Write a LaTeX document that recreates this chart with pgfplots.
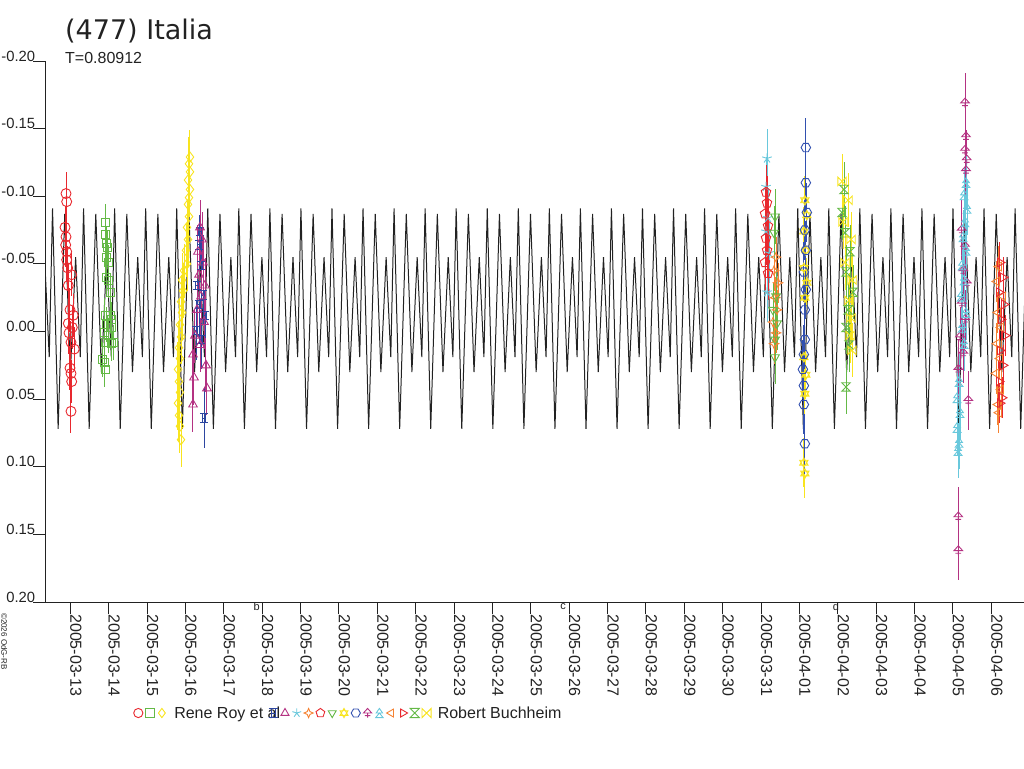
\documentclass[border=0pt]{standalone}
\usepackage{pgfplots}
\pgfplotsset{compat=1.18}
\usepackage{fontspec}
\setmainfont{Liberation Sans}
\newfontfamily\titlefont{DejaVu Sans}
\usetikzlibrary{plotmarks}
\definecolor{cRed}{RGB}{232,40,46}
\definecolor{cGreen}{RGB}{100,185,70}
\definecolor{cYellow}{RGB}{248,228,30}
\definecolor{cNavy}{RGB}{45,70,160}
\definecolor{cPurple}{RGB}{180,50,130}
\definecolor{cCyan}{RGB}{105,200,220}
\definecolor{cOrange}{RGB}{245,130,50}
\definecolor{cBlue}{RGB}{50,80,175}
\definecolor{cText}{RGB}{34,34,34}
\pgfdeclareplotmark{ibeam}{%
\pgfpathmoveto{\pgfqpoint{-\pgfplotmarksize}{\pgfplotmarksize}}\pgfpathlineto{\pgfqpoint{\pgfplotmarksize}{\pgfplotmarksize}}%
\pgfpathmoveto{\pgfqpoint{-\pgfplotmarksize}{-\pgfplotmarksize}}\pgfpathlineto{\pgfqpoint{\pgfplotmarksize}{-\pgfplotmarksize}}%
\pgfpathmoveto{\pgfqpoint{-0.4\pgfplotmarksize}{\pgfplotmarksize}}\pgfpathlineto{\pgfqpoint{-0.4\pgfplotmarksize}{-\pgfplotmarksize}}%
\pgfpathmoveto{\pgfqpoint{0.4\pgfplotmarksize}{\pgfplotmarksize}}\pgfpathlineto{\pgfqpoint{0.4\pgfplotmarksize}{-\pgfplotmarksize}}%
\pgfpathmoveto{\pgfqpoint{-0.4\pgfplotmarksize}{0pt}}\pgfpathlineto{\pgfqpoint{0.4\pgfplotmarksize}{0pt}}%
\pgfusepathqstroke}
\pgfdeclareplotmark{star4}{%
\pgfpathmoveto{\pgfqpoint{0pt}{\pgfplotmarksize}}%
\pgfpathlineto{\pgfqpoint{0.3\pgfplotmarksize}{0.3\pgfplotmarksize}}%
\pgfpathlineto{\pgfqpoint{\pgfplotmarksize}{0pt}}%
\pgfpathlineto{\pgfqpoint{0.3\pgfplotmarksize}{-0.3\pgfplotmarksize}}%
\pgfpathlineto{\pgfqpoint{0pt}{-\pgfplotmarksize}}%
\pgfpathlineto{\pgfqpoint{-0.3\pgfplotmarksize}{-0.3\pgfplotmarksize}}%
\pgfpathlineto{\pgfqpoint{-\pgfplotmarksize}{0pt}}%
\pgfpathlineto{\pgfqpoint{-0.3\pgfplotmarksize}{0.3\pgfplotmarksize}}%
\pgfpathclose\pgfusepathqstroke}
\pgfdeclareplotmark{david}{%
\pgfpathmoveto{\pgfqpoint{0pt}{\pgfplotmarksize}}%
\pgfpathlineto{\pgfqpoint{0.866\pgfplotmarksize}{-0.5\pgfplotmarksize}}%
\pgfpathlineto{\pgfqpoint{-0.866\pgfplotmarksize}{-0.5\pgfplotmarksize}}%
\pgfpathclose
\pgfpathmoveto{\pgfqpoint{0pt}{-\pgfplotmarksize}}%
\pgfpathlineto{\pgfqpoint{0.866\pgfplotmarksize}{0.5\pgfplotmarksize}}%
\pgfpathlineto{\pgfqpoint{-0.866\pgfplotmarksize}{0.5\pgfplotmarksize}}%
\pgfpathclose\pgfusepathqstroke}
\pgfdeclareplotmark{hexa}{%
\pgfpathmoveto{\pgfqpoint{\pgfplotmarksize}{0pt}}%
\pgfpathlineto{\pgfqpoint{0.5\pgfplotmarksize}{0.866\pgfplotmarksize}}%
\pgfpathlineto{\pgfqpoint{-0.5\pgfplotmarksize}{0.866\pgfplotmarksize}}%
\pgfpathlineto{\pgfqpoint{-\pgfplotmarksize}{0pt}}%
\pgfpathlineto{\pgfqpoint{-0.5\pgfplotmarksize}{-0.866\pgfplotmarksize}}%
\pgfpathlineto{\pgfqpoint{0.5\pgfplotmarksize}{-0.866\pgfplotmarksize}}%
\pgfpathclose\pgfusepathqstroke}
\pgfdeclareplotmark{tstem}{%
\pgfpathmoveto{\pgfqpoint{0pt}{\pgfplotmarksize}}%
\pgfpathlineto{\pgfqpoint{0.9\pgfplotmarksize}{0pt}}%
\pgfpathlineto{\pgfqpoint{-0.9\pgfplotmarksize}{0pt}}%
\pgfpathclose
\pgfpathmoveto{\pgfqpoint{0pt}{0pt}}\pgfpathlineto{\pgfqpoint{0pt}{-\pgfplotmarksize}}%
\pgfpathmoveto{\pgfqpoint{-0.6\pgfplotmarksize}{-0.55\pgfplotmarksize}}\pgfpathlineto{\pgfqpoint{0.6\pgfplotmarksize}{-0.55\pgfplotmarksize}}%
\pgfusepathqstroke}
\pgfdeclareplotmark{clubs}{%
\pgfpathmoveto{\pgfqpoint{0pt}{\pgfplotmarksize}}%
\pgfpathlineto{\pgfqpoint{0.7\pgfplotmarksize}{0pt}}%
\pgfpathlineto{\pgfqpoint{-0.7\pgfplotmarksize}{0pt}}%
\pgfpathclose
\pgfpathmoveto{\pgfqpoint{-0.8\pgfplotmarksize}{-\pgfplotmarksize}}\pgfpathlineto{\pgfqpoint{0pt}{0pt}}\pgfpathlineto{\pgfqpoint{0.8\pgfplotmarksize}{-\pgfplotmarksize}}%
\pgfpathclose
\pgfusepathqstroke}
\pgfdeclareplotmark{hourglass}{%
\pgfpathmoveto{\pgfqpoint{-\pgfplotmarksize}{\pgfplotmarksize}}%
\pgfpathlineto{\pgfqpoint{\pgfplotmarksize}{\pgfplotmarksize}}%
\pgfpathlineto{\pgfqpoint{-\pgfplotmarksize}{-\pgfplotmarksize}}%
\pgfpathlineto{\pgfqpoint{\pgfplotmarksize}{-\pgfplotmarksize}}%
\pgfpathclose\pgfusepathqstroke}
\pgfdeclareplotmark{bowtie}{%
\pgfpathmoveto{\pgfqpoint{-\pgfplotmarksize}{\pgfplotmarksize}}%
\pgfpathlineto{\pgfqpoint{-\pgfplotmarksize}{-\pgfplotmarksize}}%
\pgfpathlineto{\pgfqpoint{\pgfplotmarksize}{\pgfplotmarksize}}%
\pgfpathlineto{\pgfqpoint{\pgfplotmarksize}{-\pgfplotmarksize}}%
\pgfpathclose\pgfusepathqstroke}
\begin{document}
\begin{tikzpicture}
\useasboundingbox (0,0) rectangle (1024pt,768pt);
\begin{axis}[
  at={(45.3pt,166pt)}, anchor=south west,
  width=978.7pt, height=541pt, scale only axis,
  xmin=-0.6515, xmax=24.852, ymin=-0.2, ymax=0.2, y dir=reverse,
  axis x line*=bottom, axis y line*=left,
  axis line style={color=cText, line width=1pt, -},
  tick align=outside, major tick length=12pt,
  tick style={color=cText, line width=1pt},
  xtick={0,...,24},
  xticklabels={2005-03-13,2005-03-14,2005-03-15,2005-03-16,2005-03-17,2005-03-18,2005-03-19,2005-03-20,2005-03-21,2005-03-22,2005-03-23,2005-03-24,2005-03-25,2005-03-26,2005-03-27,2005-03-28,2005-03-29,2005-03-30,2005-03-31,2005-04-01,2005-04-02,2005-04-03,2005-04-04,2005-04-05,2005-04-06},
  ytick={-0.2,-0.15,-0.1,-0.05,0,0.05,0.1,0.15,0.2},
  yticklabels={-0.20,-0.15,-0.10,-0.05,0.00,0.05,0.10,0.15,0.20},
  xticklabel style={font=\fontsize{16}{19}\selectfont, text=cText, rotate=-90, anchor=base west, inner sep=0pt},
  yticklabel style={xshift=2pt, font=\fontsize{14.8}{18}\selectfont, text=cText, anchor=base east, inner sep=0pt},
  legend columns=-1,
  legend image code/.code={\path[draw=none, fill=none] (-5.2pt,-5.2pt) rectangle (5.2pt,5.2pt); \draw[#1, mark size=4.6pt] plot coordinates {(0pt,0pt)};},
  legend style={draw=none, fill=none, inner sep=0pt, outer sep=0pt, at={(axis description cs:0.0897,-0.2052)}, anchor=west, font=\fontsize{16}{19}\selectfont, text=cText, nodes={inner sep=0pt}, /tikz/every odd column/.style={column sep=0pt}, /tikz/every even column/.style={column sep=0.4pt}},
]
\addplot[color=cText, line width=1pt, forget plot] table {
x y
-1.272 -0.091
-1.126 0.072
-0.954 -0.087
-0.807 0.030
-0.670 -0.055
-0.549 0.019
-0.463 -0.091
-0.317 0.072
-0.145 -0.087
0.002 0.030
0.139 -0.055
0.260 0.019
0.346 -0.091
0.492 0.072
0.664 -0.087
0.811 0.030
0.948 -0.055
1.069 0.019
1.155 -0.091
1.301 0.072
1.473 -0.087
1.620 0.030
1.757 -0.055
1.878 0.019
1.964 -0.091
2.110 0.072
2.282 -0.087
2.429 0.030
2.566 -0.055
2.687 0.019
2.773 -0.091
2.919 0.072
3.091 -0.087
3.238 0.030
3.375 -0.055
3.496 0.019
3.582 -0.091
3.728 0.072
3.900 -0.087
4.047 0.030
4.184 -0.055
4.305 0.019
4.391 -0.091
4.537 0.072
4.709 -0.087
4.856 0.030
4.993 -0.055
5.114 0.019
5.201 -0.091
5.347 0.072
5.519 -0.087
5.666 0.030
5.803 -0.055
5.924 0.019
6.010 -0.091
6.156 0.072
6.328 -0.087
6.475 0.030
6.612 -0.055
6.733 0.019
6.819 -0.091
6.965 0.072
7.137 -0.087
7.284 0.030
7.421 -0.055
7.542 0.019
7.628 -0.091
7.774 0.072
7.946 -0.087
8.093 0.030
8.230 -0.055
8.351 0.019
8.437 -0.091
8.583 0.072
8.755 -0.087
8.902 0.030
9.039 -0.055
9.160 0.019
9.246 -0.091
9.392 0.072
9.564 -0.087
9.711 0.030
9.848 -0.055
9.969 0.019
10.055 -0.091
10.201 0.072
10.373 -0.087
10.520 0.030
10.657 -0.055
10.778 0.019
10.865 -0.091
11.011 0.072
11.183 -0.087
11.330 0.030
11.467 -0.055
11.588 0.019
11.674 -0.091
11.820 0.072
11.992 -0.087
12.139 0.030
12.276 -0.055
12.397 0.019
12.483 -0.091
12.629 0.072
12.801 -0.087
12.948 0.030
13.085 -0.055
13.206 0.019
13.292 -0.091
13.438 0.072
13.610 -0.087
13.757 0.030
13.894 -0.055
14.015 0.019
14.101 -0.091
14.247 0.072
14.419 -0.087
14.566 0.030
14.703 -0.055
14.824 0.019
14.910 -0.091
15.056 0.072
15.228 -0.087
15.375 0.030
15.512 -0.055
15.633 0.019
15.719 -0.091
15.865 0.072
16.037 -0.087
16.184 0.030
16.321 -0.055
16.442 0.019
16.528 -0.091
16.674 0.072
16.846 -0.087
16.993 0.030
17.130 -0.055
17.251 0.019
17.337 -0.091
17.483 0.072
17.655 -0.087
17.802 0.030
17.939 -0.055
18.060 0.019
18.147 -0.091
18.293 0.072
18.465 -0.087
18.612 0.030
18.749 -0.055
18.870 0.019
18.956 -0.091
19.102 0.072
19.274 -0.087
19.421 0.030
19.558 -0.055
19.679 0.019
19.765 -0.091
19.911 0.072
20.083 -0.087
20.230 0.030
20.367 -0.055
20.488 0.019
20.574 -0.091
20.720 0.072
20.892 -0.087
21.039 0.030
21.176 -0.055
21.297 0.019
21.383 -0.091
21.529 0.072
21.701 -0.087
21.848 0.030
21.985 -0.055
22.106 0.019
22.192 -0.091
22.338 0.072
22.510 -0.087
22.657 0.030
22.794 -0.055
22.915 0.019
23.001 -0.091
23.147 0.072
23.319 -0.087
23.466 0.030
23.603 -0.055
23.724 0.019
23.810 -0.091
23.956 0.072
24.128 -0.087
24.275 0.030
24.412 -0.055
24.533 0.019
24.620 -0.091
24.766 0.072
24.938 -0.087
25.085 0.030
};
% 1 red circles
\addplot[only marks, color=cRed, mark=o, mark size=5pt, mark options={solid, line width=0.9pt}, error bars/.cd, y dir=both, y fixed=0.016, error mark=none, error bar style={line width=1pt}] coordinates {
(-0.112,-0.102) (-0.094,-0.096) (-0.138,-0.077) (-0.112,-0.070) (-0.120,-0.064) (-0.094,-0.059) (-0.094,-0.053) (-0.068,-0.047) (0.036,-0.042) (-0.052,-0.034) (-0.008,-0.016) (0.078,-0.012) (-0.052,-0.006) (0.052,-0.003) (-0.034,0.001) (0.018,0.008) (0.104,0.013) (-0.008,0.027) (0.018,0.031) (0.036,0.037) (0.018,0.059)};
\addlegendentry{}
% 2 green squares
\addplot[only marks, color=cGreen, mark=square, mark size=4pt, mark options={solid, line width=0.9pt}, error bars/.cd, y dir=both, y fixed=0.013, error mark=none, error bar style={line width=1pt}] coordinates {
(0.922,-0.081) (0.922,-0.072) (0.949,-0.065) (0.975,-0.062) (0.930,-0.055) (0.990,-0.051) (0.949,-0.040) (0.990,-0.038) (1.035,-0.029) (0.904,-0.012) (1.035,-0.012) (1.079,-0.009) (0.949,-0.005) (1.079,-0.003) (0.886,0.001) (0.990,0.003) (0.904,0.008) (1.079,0.009) (1.121,0.008) (0.834,0.021) (0.886,0.023) (0.904,0.028)};
\addlegendentry{}
% 3 yellow diamonds
\addplot[only marks, color=cYellow, mark=diamond, mark size=5pt, mark options={solid, line width=0.9pt}, error bars/.cd, y dir=both, y fixed=0.02, error mark=none, error bar style={line width=1pt}] coordinates {
(3.119,-0.129) (3.093,-0.124) (3.119,-0.118) (3.067,-0.112) (3.119,-0.105) (3.093,-0.099) (3.067,-0.094) (3.093,-0.085) (3.041,-0.077) (3.067,-0.068) (3.015,-0.060) (3.041,-0.050) (2.963,-0.045) (2.911,-0.038) (2.937,-0.030) (2.885,-0.022) (2.911,-0.014) (2.858,-0.005) (2.885,0.004) (2.832,0.012) (2.858,0.020) (2.806,0.028) (2.832,0.037) (2.858,0.045) (2.806,0.053) (2.832,0.062) (2.858,0.070) (2.885,0.080)};
\addlegendentry{\makebox[100.5pt][l]{\hspace*{7.2pt}Rene Roy et al}}
% 4 navy ibeam
\addplot[only marks, color=cNavy, mark=ibeam, mark size=4.2pt, mark options={solid, line width=0.9pt}, error bars/.cd, y dir=both, y fixed=0.022, error mark=none, error bar style={line width=1pt}] coordinates {
(3.380,-0.074) (3.354,-0.064) (3.406,-0.049) (3.302,-0.034) (3.458,-0.027) (3.354,-0.020) (3.510,-0.012) (3.276,-0.001) (3.406,0.006) (3.484,0.064)};
\addlegendentry{}
% 5 purple triangles
\addplot[only marks, color=cPurple, mark=triangle, mark size=5pt, mark options={solid, line width=0.9pt}, error bars/.cd, y dir=both, y fixed=0.02, error mark=none, error bar style={line width=1pt}] coordinates {
(3.380,-0.077) (3.432,-0.068) (3.327,-0.059) (3.458,-0.051) (3.354,-0.042) (3.510,-0.034) (3.406,-0.026) (3.302,-0.016) (3.484,-0.007) (3.249,0.003) (3.380,0.010) (3.197,0.017) (3.536,0.025) (3.223,0.034) (3.562,0.042) (3.197,0.054)};
\addlegendentry{}
% 6 cyan stars
\addplot[only marks, color=cCyan, mark=star, mark size=5pt, mark options={solid, line width=0.9pt}, error bars/.cd, y dir=both, y fixed=0.022, error mark=none, error bar style={line width=1pt}] coordinates {
(18.155,-0.128) (18.129,-0.107) (18.181,-0.084) (18.129,-0.074) (18.207,-0.058) (18.155,-0.029)};
\addlegendentry{}
% 7 orange star4
\addplot[only marks, color=cOrange, mark=star4, mark size=4.8pt, mark options={solid, line width=0.9pt}, error bars/.cd, y dir=both, y fixed=0.015, error mark=none, error bar style={line width=1pt}] coordinates {
(18.390,-0.055) (18.338,-0.045) (18.442,-0.036) (18.364,-0.025) (18.416,-0.016) (18.312,-0.007) (18.390,0.001) (18.338,0.009)};
\addlegendentry{}
% 8 red pentagons
\addplot[only marks, color=cRed, mark=pentagon, mark size=5pt, mark options={solid, line width=0.9pt}, error bars/.cd, y dir=both, y fixed=0.02, error mark=none, error bar style={line width=1pt}] coordinates {
(18.129,-0.103) (18.155,-0.095) (18.103,-0.087) (18.181,-0.078) (18.129,-0.069) (18.155,-0.060) (18.103,-0.051) (18.181,-0.043)};
\addlegendentry{}
% 9 green down triangles
\addplot[only marks, color=cGreen, mark=triangle, mark size=5pt, mark options={solid, line width=0.9pt, rotate=180}, error bars/.cd, y dir=both, y fixed=0.02, error mark=none, error bar style={line width=1pt}] coordinates {
(18.364,-0.085) (18.338,-0.073) (18.390,-0.026) (18.312,-0.016) (18.416,-0.006) (18.364,0.006) (18.364,0.019)};
\addlegendentry{}
% 10 yellow david
\addplot[only marks, color=cYellow, mark=david, mark size=4.8pt, mark options={solid, line width=0.9pt}, error bars/.cd, y dir=both, y fixed=0.018, error mark=none, error bar style={line width=1pt}] coordinates {
(19.141,-0.097) (19.193,-0.086) (19.115,-0.074) (19.167,-0.060) (19.115,-0.047) (19.193,-0.036) (19.141,-0.025) (19.115,0.019) (19.167,0.032) (19.141,0.046) (19.115,0.097) (19.141,0.105)};
\addlegendentry{}
% 11 blue hexagons
\addplot[only marks, color=cBlue, mark=hexa, mark size=4.8pt, mark options={solid, line width=0.9pt}, error bars/.cd, y dir=both, y fixed=0.022, error mark=none, error bar style={line width=1pt}] coordinates {
(19.167,-0.136) (19.167,-0.110) (19.193,-0.088) (19.141,-0.075) (19.167,-0.060) (19.115,-0.044) (19.167,-0.031) (19.141,-0.016) (19.141,0.006) (19.115,0.017) (19.089,0.028) (19.115,0.040) (19.115,0.054) (19.141,0.083)};
\addlegendentry{}
% 12 purple tstem
\addplot[only marks, color=cPurple, mark=tstem, mark size=4.8pt, mark options={solid, line width=0.9pt}, error bars/.cd, y dir=both, y fixed=0.022, error mark=none, error bar style={line width=1pt}] coordinates {
(23.315,-0.169) (23.340,-0.144) (23.315,-0.134) (23.359,-0.127) (23.340,-0.119) (23.229,-0.075) (23.315,-0.063) (23.270,-0.045) (23.359,-0.036) (23.229,-0.021) (23.315,-0.009) (23.184,0.004) (23.270,0.016) (23.140,0.028) (23.401,0.051) (23.140,0.137) (23.140,0.162)};
\addlegendentry{}
% 13 cyan clubs
\addplot[only marks, color=cCyan, mark=clubs, mark size=4.8pt, mark options={solid, line width=0.9pt}, error bars/.cd, y dir=both, y fixed=0.02, error mark=none, error bar style={line width=1pt}] coordinates {
(23.341,-0.110) (23.289,-0.101) (23.367,-0.091) (23.315,-0.081) (23.263,-0.070) (23.341,-0.060) (23.237,-0.049) (23.289,-0.038) (23.211,-0.026) (23.341,-0.014) (23.237,-0.003) (23.289,0.009) (23.159,0.037) (23.107,0.049) (23.184,0.060) (23.107,0.071) (23.159,0.082) (23.133,0.088)};
\addlegendentry{}
% 14 orange left triangles
\addplot[only marks, color=cOrange, mark=triangle, mark size=5pt, mark options={solid, line width=0.9pt, rotate=90}, error bars/.cd, y dir=both, y fixed=0.015, error mark=none, error bar style={line width=1pt}] coordinates {
(24.200,-0.048) (24.148,-0.037) (24.305,-0.026) (24.174,-0.014) (24.253,-0.003) (24.148,0.009) (24.226,0.020) (24.122,0.031) (24.253,0.043) (24.174,0.054) (24.200,0.060)};
\addlegendentry{}
% 15 red right triangles
\addplot[only marks, color=cRed, mark=triangle, mark size=5pt, mark options={solid, line width=0.9pt, rotate=-90}, error bars/.cd, y dir=both, y fixed=0.015, error mark=none, error bar style={line width=1pt}] coordinates {
(24.226,-0.051) (24.305,-0.040) (24.200,-0.029) (24.330,-0.020) (24.253,-0.009) (24.357,0.003) (24.226,0.014) (24.305,0.025) (24.200,0.037) (24.279,0.049) (24.226,0.053)};
\addlegendentry{}
% 16 green hourglass
\addplot[only marks, color=cGreen, mark=hourglass, mark size=4.2pt, mark options={solid, line width=0.9pt}, error bars/.cd, y dir=both, y fixed=0.02, error mark=none, error bar style={line width=1pt}] coordinates {
(20.162,-0.105) (20.110,-0.088) (20.188,-0.073) (20.318,-0.059) (20.214,-0.044) (20.396,-0.029) (20.266,-0.016) (20.214,-0.003) (20.292,0.010) (20.214,0.041)};
\addlegendentry{}
% 17 yellow bowtie
\addplot[only marks, color=cYellow, mark=bowtie, mark size=4.2pt, mark options={solid, line width=0.9pt}, error bars/.cd, y dir=both, y fixed=0.02, error mark=none, error bar style={line width=1pt}] coordinates {
(20.110,-0.111) (20.266,-0.097) (20.136,-0.081) (20.344,-0.068) (20.188,-0.051) (20.370,-0.038) (20.292,-0.023) (20.344,-0.010) (20.318,0.003) (20.370,0.014)};
\addlegendentry{\hspace*{6pt}Robert Buchheim}
\end{axis}
\node[anchor=base west, inner sep=0pt, font=\titlefont\fontsize{27}{32}\selectfont, text=cText] at (65pt,728.7pt) {(477) Italia};
\node[anchor=base west, inner sep=0pt, font=\fontsize{16}{19}\selectfont, text=cText] at (65pt,704pt) {T=0.80912};
\node[rotate=-90, anchor=base west, inner sep=0pt, font=\fontsize{8}{9}\selectfont, text=cText] at (1.5pt,155pt) {©2026 OdG-RB};
\node[inner sep=0pt, font=\fontsize{11}{12}\selectfont, text=cText] at (256.7pt,161pt) {b};
\node[inner sep=0pt, font=\fontsize{11}{12}\selectfont, text=cText] at (563pt,161pt) {c};
\node[inner sep=0pt, font=\fontsize{11}{12}\selectfont, text=cText] at (836pt,161pt) {d};
\end{tikzpicture}
\end{document}
